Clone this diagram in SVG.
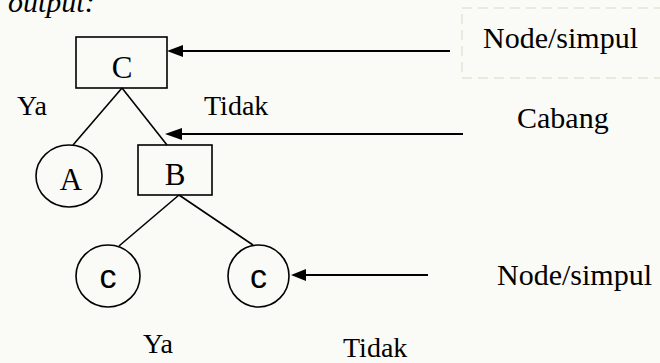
<svg xmlns="http://www.w3.org/2000/svg" width="660" height="363" viewBox="0 0 660 363">
<style>
.ln{stroke:#000;stroke-width:1.6;fill:none}
.ar{stroke:#000;stroke-width:2;fill:none}
.hd{fill:#000}
.nd{stroke:#000;stroke-width:1.6;fill:none}
.t{font-family:"Liberation Serif","Times New Roman",serif;fill:#000}
.s{font-family:"Liberation Sans",Arial,sans-serif;fill:#000}
</style>
<rect width="660" height="363" fill="#fafaf6"/>
<text class="t" x="8" y="12" font-size="30" font-style="italic">output:</text>
<rect x="462" y="8" width="210" height="70" fill="none" stroke="#e6e2d4" stroke-width="1.5" stroke-dasharray="10,6"/>
<g id="connectors">
<line class="ln" x1="122" y1="88" x2="73" y2="145"/>
<line class="ln" x1="122" y1="88" x2="167" y2="145"/>
<line class="ln" x1="179" y1="195" x2="119" y2="246"/>
<line class="ln" x1="179" y1="195" x2="253" y2="245"/>
<line class="ar" x1="450" y1="51" x2="175" y2="51"/>
<path class="hd" d="M167,51 L183,45 L183,57 Z"/>
<line class="ar" x1="463" y1="134" x2="173" y2="134"/>
<path class="hd" d="M165,134 L182,128 L182,140 Z"/>
<line class="ar" x1="428" y1="275" x2="298" y2="275"/>
<path class="hd" d="M291,275 L306,269 L306,281 Z"/>
</g>
<g id="nodeC">
<rect class="nd" x="76" y="37" width="91" height="51"/>
<text class="t" x="122" y="78" font-size="31" text-anchor="middle">C</text>
</g>
<g id="nodeA">
<ellipse class="nd" cx="69" cy="176" rx="33" ry="31"/>
<text class="t" x="71" y="190" font-size="31" text-anchor="middle">A</text>
</g>
<g id="nodeB">
<rect class="nd" x="138" y="145" width="74" height="50"/>
<text class="t" x="175" y="185" font-size="31" text-anchor="middle">B</text>
</g>
<g id="nodeC1">
<ellipse class="nd" cx="108" cy="276" rx="32" ry="31"/>
<text class="s" x="108" y="288" font-size="34" text-anchor="middle">c</text>
</g>
<g id="nodeC2">
<ellipse class="nd" cx="258.5" cy="276" rx="30.5" ry="31"/>
<text class="s" x="258.5" y="288" font-size="34" text-anchor="middle">c</text>
</g>
<g id="labels">
<text class="t" x="17" y="115" font-size="28">Ya</text>
<text class="t" x="204" y="115" font-size="28">Tidak</text>
<text class="t" x="483" y="48" font-size="30">Node/simpul</text>
<text class="t" x="517" y="128" font-size="30">Cabang</text>
<text class="t" x="497" y="285" font-size="30">Node/simpul</text>
<text class="t" x="143" y="353" font-size="28">Ya</text>
<text class="t" x="343" y="357" font-size="28">Tidak</text>
</g>
</svg>
